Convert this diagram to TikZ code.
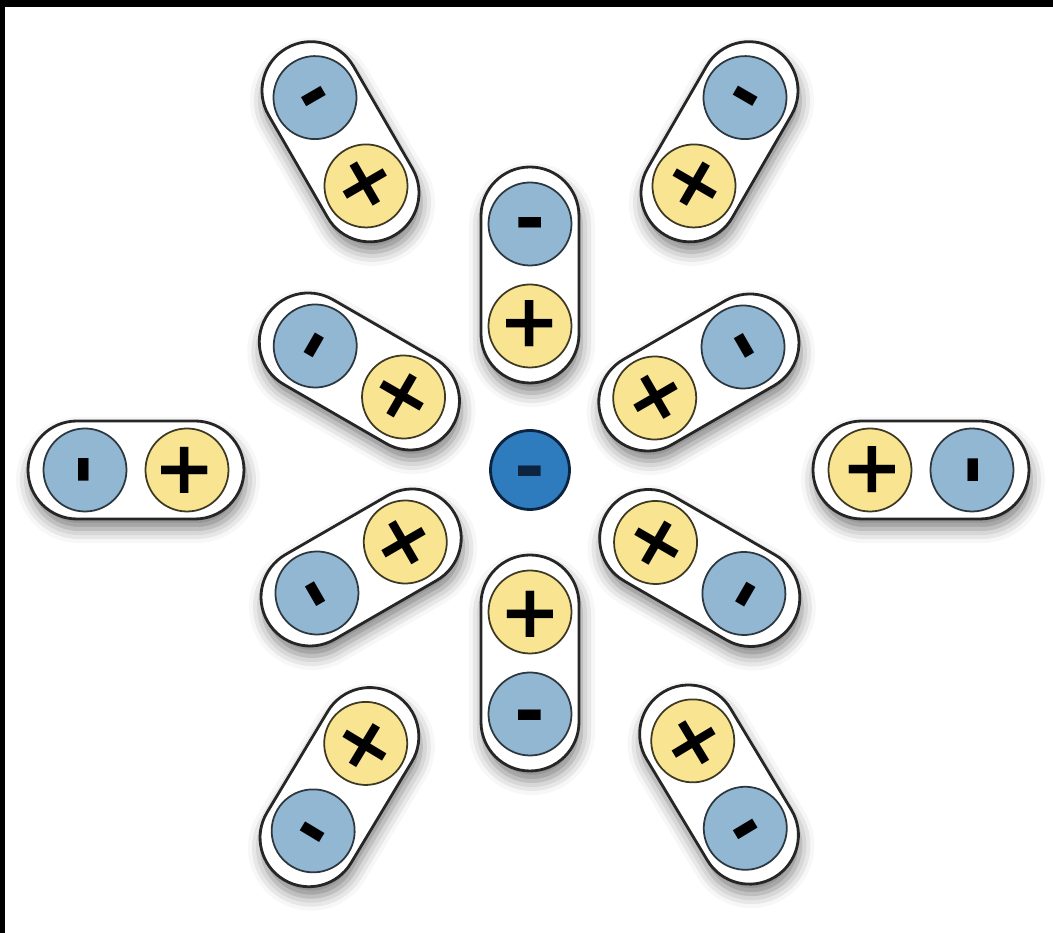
\documentclass[tikz,border=0pt]{standalone}
\usepackage{fontspec}
\newfontfamily\signfont{DejaVu Sans}
\usepackage{tikz}
\usetikzlibrary{calc,shadows.blur}

\definecolor{poleblue}{RGB}{146,183,211}
\definecolor{poleyellow}{RGB}{249,229,145}
\definecolor{ionblue}{RGB}{46,124,190}
\definecolor{ionedge}{RGB}{12,36,64}

\newcommand{\plussign}{\raisebox{-0.34em}[0pt][0pt]{+}}
\newcommand{\minussign}{\raisebox{-0.31em}[0pt][0pt]{-}}

\tikzset{
  dipole/.style={draw=black!85, line width=0.8pt, fill=white, rounded corners=0.49cm,
    blur shadow={shadow xshift=0.02cm, shadow yshift=-0.1cm,
      shadow blur radius=4pt, shadow opacity=50}},
  negpole/.style={circle, draw=black!70!poleblue, line width=0.5pt, fill=poleblue,
    minimum size=0.83cm, inner sep=0pt, font=\signfont\bfseries\fontsize{21}{21}\selectfont},
  pospole/.style={circle, draw=black!75!poleyellow, line width=0.5pt, fill=poleyellow,
    minimum size=0.83cm, inner sep=0pt, font=\signfont\bfseries\fontsize{21}{21}\selectfont},
  anion/.style={circle, draw=ionedge, line width=0.8pt, fill=ionblue, text=ionedge,
    minimum size=0.79cm, inner sep=0pt, font=\signfont\bfseries\fontsize{21}{21}\selectfont},
}

\begin{document}
\begin{tikzpicture}
  \useasboundingbox (-5.30,-4.63) rectangle (5.23,4.70);
  % frame
  \path[fill=black] (-5.30,4.63) rectangle (5.23,4.70);
  \path[fill=black] (-5.30,-4.63) rectangle (-5.25,4.70);
  % molecules: angle / distance / name
  \foreach \a/\r/\n in {90/1.95/i1, 30/1.95/i2, -30/1.96/i3, -90/1.93/i4, 210/1.95/i5, 150/1.97/i6,
                        0/3.91/o1, 60/3.79/o2, 120/3.79/o3, 180/3.94/o4, 239/3.70/o5, 301/3.67/o6}{
    \begin{scope}[shift={(\a:\r)}, rotate=\a]
      \path[dipole] (-1.08,-0.49) rectangle (1.08,0.49);
      \node[pospole, rotate=\a+90] (p\n) at (-0.51,0) {\plussign};
      \node[negpole, rotate=\a+90] (m\n) at (0.51,0) {\minussign};
    \end{scope}
  }
  % ion
  \node[anion] (ion) at (0,0) {\minussign};
\end{tikzpicture}
\end{document}
